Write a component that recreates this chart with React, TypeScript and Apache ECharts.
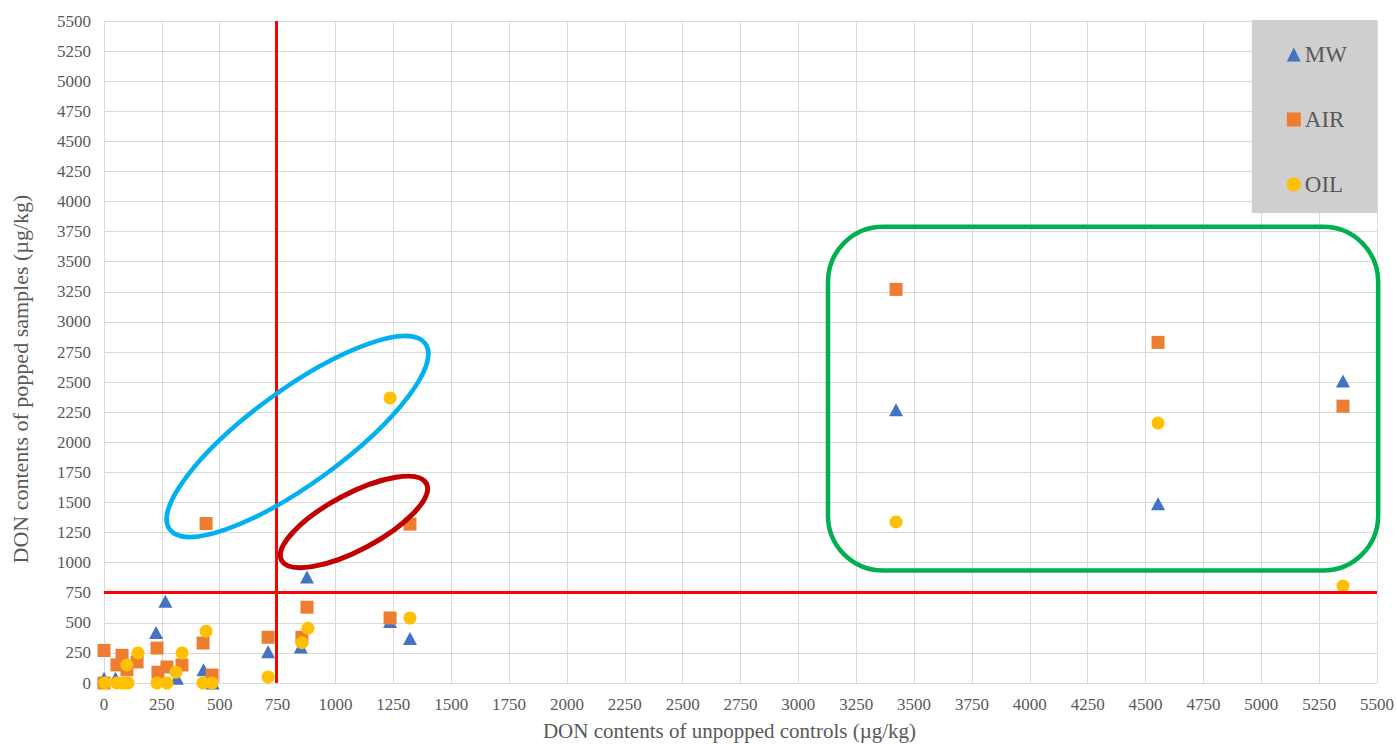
import React, { useEffect, useRef } from "react";
import * as echarts from "echarts";

// DON contents (µg/kg): [unpopped control, popped sample]
const mwPoints: [number, number][] = [
  [0, 40], [50, 40], [225, 420], [265, 680], [315, 40], [430, 110], [470, 0],
  [709, 260], [850, 300], [877, 880], [1236, 510], [1322, 370],
  [3422, 2270], [4554, 1490], [5353, 2510],
];
const airPoints: [number, number][] = [
  [0, 270], [0, 0], [56, 150], [78, 230], [99, 110], [143, 175], [229, 290],
  [233, 90], [272, 133], [337, 150], [428, 332], [441, 1325], [467, 66],
  [709, 380], [855, 380], [877, 630], [1236, 540], [1322, 1320],
  [3422, 3270], [4554, 2830], [5353, 2300],
];
const oilPoints: [number, number][] = [
  [4, 0], [56, 0], [82, 0], [104, 0], [99, 150], [147, 250], [229, 0], [272, 0],
  [311, 90], [337, 250], [428, 0], [441, 430], [467, 0], [709, 50],
  [855, 335], [881, 455], [1236, 2368], [1322, 540],
  [3422, 1338], [4554, 2160], [5353, 806],
];
const seriesNames = ["MW", "AIR", "OIL"];
const thresholdX = 745;
const thresholdY = 750;
const axisMin = 0;
const axisMax = 5500;
const axisStep = 250;

const serif = "Liberation Serif";
const grey = "#595959";
const gridColor = "#D9D9D9";

export default function App() {
  const ref = useRef<HTMLDivElement>(null);
  useEffect(() => {
    if (!ref.current) return;
    const chart = echarts.init(ref.current, undefined, { renderer: "svg" });
    const option: any = {
      animation: false,
      backgroundColor: "#FFFFFF",
      textStyle: { fontFamily: serif },
      grid: {
        left: 104, right: 20, top: 21, bottom: 61,
        containLabel: false, outerBoundsMode: "none",
      },
      legend: {
        data: [
          { name: "MW", icon: "triangle" },
          { name: "AIR", icon: "rect" },
          { name: "OIL", icon: "circle" },
        ],
        orient: "vertical",
        right: 20,
        top: 20,
        itemWidth: 14,
        itemHeight: 14,
        itemGap: 42,
        backgroundColor: "#D0CECE",
        padding: [23, 30, 17, 35],
        textStyle: { fontFamily: serif, fontSize: 23, color: grey, lineHeight: 23, padding: [0, 0, 0, -1] },
      },
      xAxis: {
        type: "value",
        min: axisMin,
        max: axisMax,
        interval: axisStep,
        name: "DON contents of unpopped controls (µg/kg)",
        nameLocation: "middle",
        nameGap: 37,
        nameTextStyle: { fontFamily: serif, fontSize: 21, color: grey, lineHeight: 21, padding: [0, 22, 0, 0] },
        axisLine: { show: true, lineStyle: { color: gridColor } },
        axisTick: { show: false },
        axisLabel: { fontFamily: serif, fontSize: 17, color: grey, margin: 13, formatter: (v: number) => String(v) },
        splitLine: { show: true, lineStyle: { color: gridColor, width: 1 } },
      },
      yAxis: {
        type: "value",
        min: axisMin,
        max: axisMax,
        interval: axisStep,
        name: "DON contents of popped samples (µg/kg)",
        nameLocation: "middle",
        nameRotate: 90,
        nameGap: 73,
        nameTextStyle: { fontFamily: serif, fontSize: 22, color: grey, padding: [0, 54, 0, 0] },
        axisLine: { show: true, lineStyle: { color: gridColor } },
        axisTick: { show: false },
        axisLabel: { fontFamily: serif, fontSize: 17, color: grey, margin: 13, formatter: (v: number) => String(v) },
        splitLine: { show: true, lineStyle: { color: gridColor, width: 1 } },
      },
      series: [
        {
          name: seriesNames[0],
          type: "scatter",
          symbol: "triangle",
          symbolSize: [14, 13],
          itemStyle: { color: "#4472C4", opacity: 1 },
          data: mwPoints,
          markLine: {
            silent: true,
            symbol: "none",
            label: { show: false },
            lineStyle: { color: "#FF0000", width: 3, type: "solid", opacity: 1 },
            data: [{ xAxis: thresholdX }, { yAxis: thresholdY }],
            z: 10,
          },
        },
        {
          name: seriesNames[1],
          type: "scatter",
          symbol: "rect",
          symbolSize: 13,
          itemStyle: { color: "#ED7D31", opacity: 1 },
          data: airPoints,
        },
        {
          name: seriesNames[2],
          type: "scatter",
          symbol: "circle",
          symbolSize: 13,
          itemStyle: { color: "#FFC000", opacity: 1 },
          data: oilPoints,
        },
      ],
    };
    chart.setOption(option);

    const px = (x: number, y: number) =>
      chart.convertToPixel({ gridIndex: 0 }, [x, y]) as number[];
    const blue = px(836, 2048);
    const red = px(1080, 1338);
    const g1 = px(3128, 3790);
    const g2 = px(5505, 935);
    chart.setOption({
      graphic: [
        {
          type: "ellipse",
          x: blue[0],
          y: blue[1],
          rotation: (36 * Math.PI) / 180,
          shape: { cx: 0, cy: 0, rx: 158, ry: 47 },
          style: { fill: "none", stroke: "#00B0F0", lineWidth: 4.5 },
          z: 100,
          silent: true,
        },
        {
          type: "ellipse",
          x: red[0],
          y: red[1],
          rotation: (28 * Math.PI) / 180,
          shape: { cx: 0, cy: 0, rx: 82, ry: 28 },
          style: { fill: "none", stroke: "#C00000", lineWidth: 5 },
          z: 100,
          silent: true,
        },
        {
          type: "rect",
          shape: { x: g1[0], y: g1[1], width: g2[0] - g1[0], height: g2[1] - g1[1], r: 55 },
          style: { fill: "none", stroke: "#00B050", lineWidth: 4.5 },
          z: 100,
          silent: true,
        },
      ],
    });
    return () => chart.dispose();
  }, []);
  return (
    <div
      ref={ref}
      style={{ position: "fixed", left: 0, top: 0, width: 1397, height: 744 }}
    />
  );
}
